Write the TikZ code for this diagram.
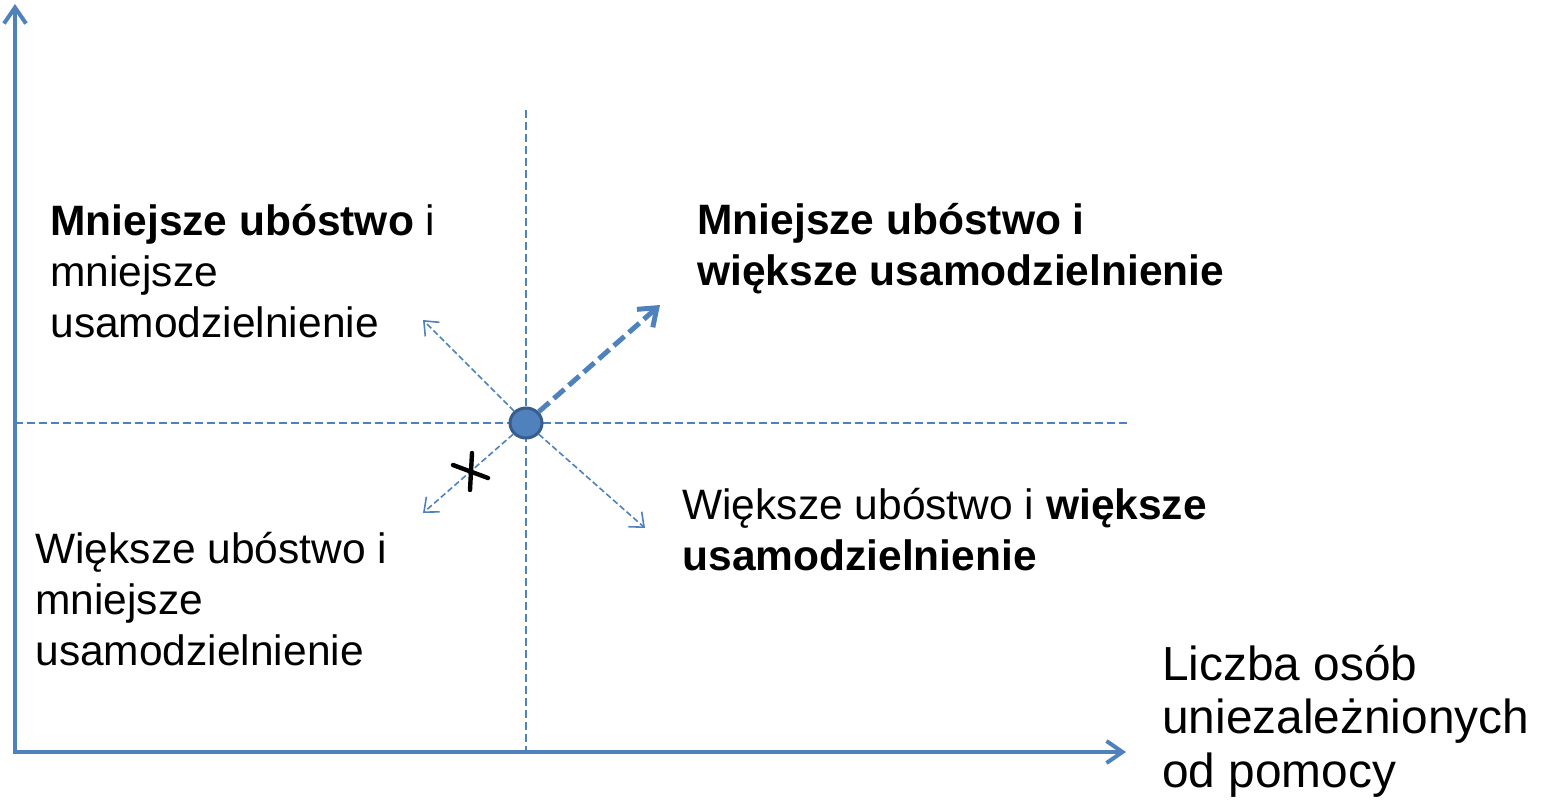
\documentclass[tikz,border=0pt]{standalone}
\usepackage{fontspec}
\setmainfont{Liberation Sans}
\usetikzlibrary{arrows.meta,shapes.geometric}
\definecolor{ablue}{RGB}{79,129,189}
\definecolor{dblue}{RGB}{56,93,138}
\begin{document}
\begin{tikzpicture}[x=0.5pt,y=-0.5pt,
  axis/.style={ablue, line width=2pt, line join=miter,
    {Straight Barb[length=8pt,width=11pt]}-{Straight Barb[length=8pt,width=11pt]}},
  guide/.style={ablue, line width=0.7pt, dash pattern=on 4pt off 2pt},
  thinarrow/.style={ablue, line width=0.8pt, dash pattern=on 3pt off 1.5pt,
    -{Straight Barb[length=6pt,width=10pt]}},
  thickarrow/.style={ablue, line width=2.5pt, dash pattern=on 7pt off 3pt,
    -{Straight Barb[length=8pt,width=12pt]}},
  lbl/.style={anchor=base west, inner sep=0pt, align=left,
    font=\fontsize{21.25pt}{25.5pt}\selectfont},
  axlbl/.style={anchor=base west, inner sep=0pt, align=left,
    font=\fontsize{23.9pt}{26.75pt}\selectfont},
  dot/.style={ellipse, draw=dblue, fill=ablue, line width=1.5pt,
    minimum width=16pt, minimum height=15pt, inner sep=0pt},
  crossmark/.style={black, line width=2.2pt, line cap=round},
]
\useasboundingbox (0,0) rectangle (1546,799);

% coordinates
\coordinate (o) at (15,752);
\coordinate (ytop) at (15,4);
\coordinate (xend) at (1126,752);
\coordinate (vtop) at (526,110);
\coordinate (vbot) at (526,752);
\coordinate (hl) at (15,423);
\coordinate (hr) at (1127,423);
\coordinate (ul) at (423,320);
\coordinate (ll) at (423,513);
\coordinate (lr) at (645,528);
\coordinate (ur) at (660,305);

% guides
\draw[guide] (vtop) -- (vbot);
\draw[guide] (hl) -- (hr);

% axes
\draw[axis] (ytop) -- (o) -- (xend);

% centre point
\node[dot] (c) at (526,423) {};

% arrows
\draw[thinarrow] (c) -- (ul);
\draw[thinarrow] (c) -- (ll);
\draw[thinarrow] (c) -- (lr);
\draw[thickarrow] (c) -- (ur);

% cross
\draw[crossmark] (472,453) -- (470,490);
\draw[crossmark] (453,465) -- (488,478);

% labels (anchored at the baseline of their last line)
\node[lbl] (tl) at (50,337) {\textbf{Mniejsze ubóstwo} i\\mniejsze\\usamodzielnienie};
\node[lbl] (tr) at (697,285) {\textbf{Mniejsze ubóstwo i}\\\textbf{większe usamodzielnienie}};
\node[lbl] (br) at (682,570) {Większe ubóstwo i \textbf{większe}\\\textbf{usamodzielnienie}};
\node[lbl] (bl) at (35,665) {Większe ubóstwo i\\mniejsze\\usamodzielnienie};
\node[axlbl] (xl) at (1162,787) {Liczba osób\\uniezależnionych\\od pomocy};
\end{tikzpicture}
\end{document}
